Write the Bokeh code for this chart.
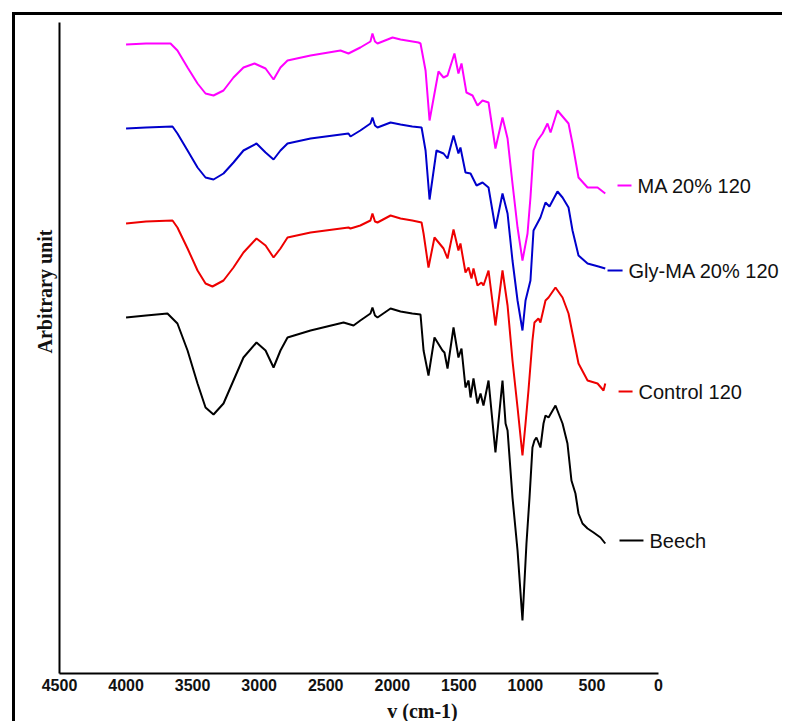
from bokeh.plotting import figure
from bokeh.models import Range1d, FixedTicker, Label, Title
from bokeh.embed import file_html
from bokeh.resources import INLINE

# ---------------- data ----------------
beech_wn = [4000, 3850, 3689, 3614, 3538, 3463, 3403, 3343, 3268, 3193, 3118, 3020, 2952, 2892, 2840, 2787,
            2614, 2366, 2291, 2240, 2164, 2149, 2130, 2111, 2013, 1938, 1850, 1788, 1765, 1728, 1683, 1623,
            1608, 1585, 1540, 1503, 1480, 1450, 1427, 1412, 1390, 1360, 1337, 1315, 1277, 1225, 1172, 1149,
            1134, 1097, 1059, 1022, 992, 969, 947, 932, 917, 887, 864, 849, 826, 774, 721, 684, 654, 624,
            601, 571, 533, 488, 436, 400]
beech_y = [356, 358, 360, 350, 323, 290, 266, 259, 270, 293, 316, 331, 323, 306, 323, 336,
           343, 351, 348, 353, 360, 366, 358, 356, 365, 362, 360, 359, 323, 298, 336, 323,
           321, 305, 346, 316, 325, 286, 293, 276, 295, 270, 280, 268, 293, 221, 293, 250,
           243, 176, 123, 53, 130, 176, 226, 233, 236, 226, 250, 258, 256, 268, 250, 230, 193, 180,
           160, 150, 145, 141, 136, 130]

control_wn = [4000, 3850, 3651, 3614, 3538, 3463, 3403, 3351, 3268, 3193, 3118, 3020, 2952, 2892, 2840, 2787,
              2614, 2329, 2314, 2240, 2164, 2149, 2130, 2111, 2013, 1938, 1850, 1780, 1765, 1728, 1683, 1615,
              1585, 1540, 1503, 1488, 1450, 1427, 1405, 1390, 1360, 1330, 1315, 1277, 1225, 1172, 1134, 1097,
              1059, 1022, 999, 977, 947, 932, 902, 887, 849, 826, 774, 721, 676, 646, 601, 533, 458, 413, 400]
control_y = [450, 452, 453, 446, 425, 403, 390, 387, 393, 406, 421, 435, 428, 416, 425, 436,
             441, 446, 445, 448, 453, 460, 452, 451, 458, 455, 453, 451, 440, 406, 436, 425,
             415, 444, 423, 430, 401, 406, 395, 405, 388, 391, 388, 403, 348, 403, 368, 313,
             266, 218, 250, 283, 333, 351, 355, 351, 373, 376, 386, 376, 360, 340, 310, 293, 290, 283, 290]

glyma_wn = [4000, 3850, 3651, 3614, 3538, 3463, 3403, 3343, 3268, 3193, 3118, 3020, 2952, 2892, 2840, 2787,
            2614, 2329, 2314, 2240, 2164, 2149, 2130, 2111, 2013, 1938, 1850, 1780, 1750, 1720, 1668, 1615,
            1585, 1540, 1503, 1488, 1450, 1412, 1367, 1322, 1277, 1225, 1172, 1134, 1097, 1059, 1022, 999,
            962, 939, 887, 849, 819, 759, 721, 676, 646, 601, 533, 451, 400]
glyma_y = [545, 546, 547, 540, 523, 506, 496, 494, 500, 511, 523, 530, 521, 514, 523, 530,
           535, 540, 537, 543, 550, 556, 548, 546, 551, 549, 547, 546, 523, 474, 523, 520,
           515, 538, 520, 526, 501, 500, 488, 491, 486, 445, 480, 460, 413, 373, 343, 373,
           393, 443, 456, 471, 467, 482, 476, 466, 443, 418, 410, 407, 405]

ma_wn = [4000, 3850, 3666, 3614, 3538, 3463, 3403, 3343, 3268, 3193, 3118, 3035, 2952, 2892, 2840, 2787,
         2614, 2389, 2329, 2240, 2164, 2149, 2130, 2111, 1998, 1938, 1803, 1788, 1750, 1720, 1653, 1615,
         1585, 1533, 1503, 1480, 1443, 1397, 1360, 1322, 1277, 1225, 1172, 1134, 1097, 1059, 1022, 984,
         962, 939, 909, 871, 834, 811, 759, 676, 646, 601, 533, 458, 400]
ma_y = [629, 630, 630, 623, 606, 590, 580, 578, 583, 596, 606, 610, 605, 594, 606, 613,
        618, 623, 620, 626, 632, 640, 632, 630, 636, 634, 631, 630, 603, 553, 602, 596,
        598, 620, 600, 610, 581, 578, 568, 573, 571, 525, 556, 535, 490, 446, 413, 440,
        476, 523, 533, 540, 550, 541, 563, 550, 530, 496, 486, 486, 480]

series_names = ["MA 20% 120", "Gly-MA 20% 120", "Control 120", "Beech"]
series_colors = ["#FF00FF", "#0000CC", "#EE0000", "#000000"]
x_ticks = [0, 500, 1000, 1500, 2000, 2500, 3000, 3500, 4000, 4500]

# label placement (layout only)
label_y = [488, 403, 282, 133]
label_line_x0 = [308, 383, 300, 293]
label_line_x1 = [203, 270, 195, 113]
label_text_x = [158, 225, 150, 68]

# ---------------- figure ----------------
# the picture's frame: a thick line on the left and on top, cut off on the right and bottom
frame_css = {
    "border-left": "3px solid #000",
    "border-top": "3px solid #000",
    "margin-left": "12px",
    "margin-top": "12px",
}
p = figure(width=770, height=709, output_backend="svg", toolbar_location=None,
           x_range=Range1d(4500, -954), y_range=Range1d(0, 651),
           min_border_left=44, min_border_right=0, min_border_top=7, min_border_bottom=51,
           styles=frame_css)
p.outline_line_color = None
p.xgrid.visible = False
p.ygrid.visible = False
p.background_fill_color = "white"
p.border_fill_color = "white"

xa = p.xaxis[0]
xa.ticker = FixedTicker(ticks=x_ticks)
xa.bounds = (0, 4500)
xa.axis_line_width = 2
xa.axis_line_color = "black"
xa.major_tick_out = 0
xa.major_tick_in = 0
xa.minor_tick_line_color = None
xa.major_label_standoff = 5
xa.major_label_text_font = "Liberation Sans"
xa.major_label_text_font_style = "bold"
xa.major_label_text_font_size = "16px"
xa.major_label_text_color = "#111111"
xa.axis_label = "v (cm-1)"
xa.axis_label_standoff = 6
xa.axis_label_text_font = "Liberation Serif"
xa.axis_label_text_font_style = "bold"
xa.axis_label_text_font_size = "20px"
xa.axis_label_text_color = "#111111"

ya = p.yaxis[0]
ya.ticker = FixedTicker(ticks=[])
ya.axis_line_width = 2
ya.axis_line_color = "black"
ya.major_tick_out = 0
ya.major_tick_in = 0
ya.major_label_standoff = 0
ya.major_tick_line_color = None
ya.minor_tick_line_color = None

p.add_layout(Title(text="Arbitrary unit", align="left", offset=320, standoff=8,
                   text_font="Liberation Serif", text_font_style="bold", text_font_size="20px",
                   text_color="#111111"), "left")

all_wn = [ma_wn, glyma_wn, control_wn, beech_wn]
all_y = [ma_y, glyma_y, control_y, beech_y]
for wn, yy, c in zip(all_wn, all_y, series_colors):
    p.line(wn, yy, line_color=c, line_width=2)

p.segment(x0=label_line_x0, y0=label_y, x1=label_line_x1, y1=label_y,
          line_color=series_colors, line_width=2)

for name, tx, ty in zip(series_names, label_text_x, label_y):
    p.add_layout(Label(x=tx, y=ty, text=name, text_font="Liberation Sans", text_font_size="20px",
                       text_color="#111111", text_baseline="middle", text_align="left"))

open("out.html", "w").write(file_html(p, INLINE))
